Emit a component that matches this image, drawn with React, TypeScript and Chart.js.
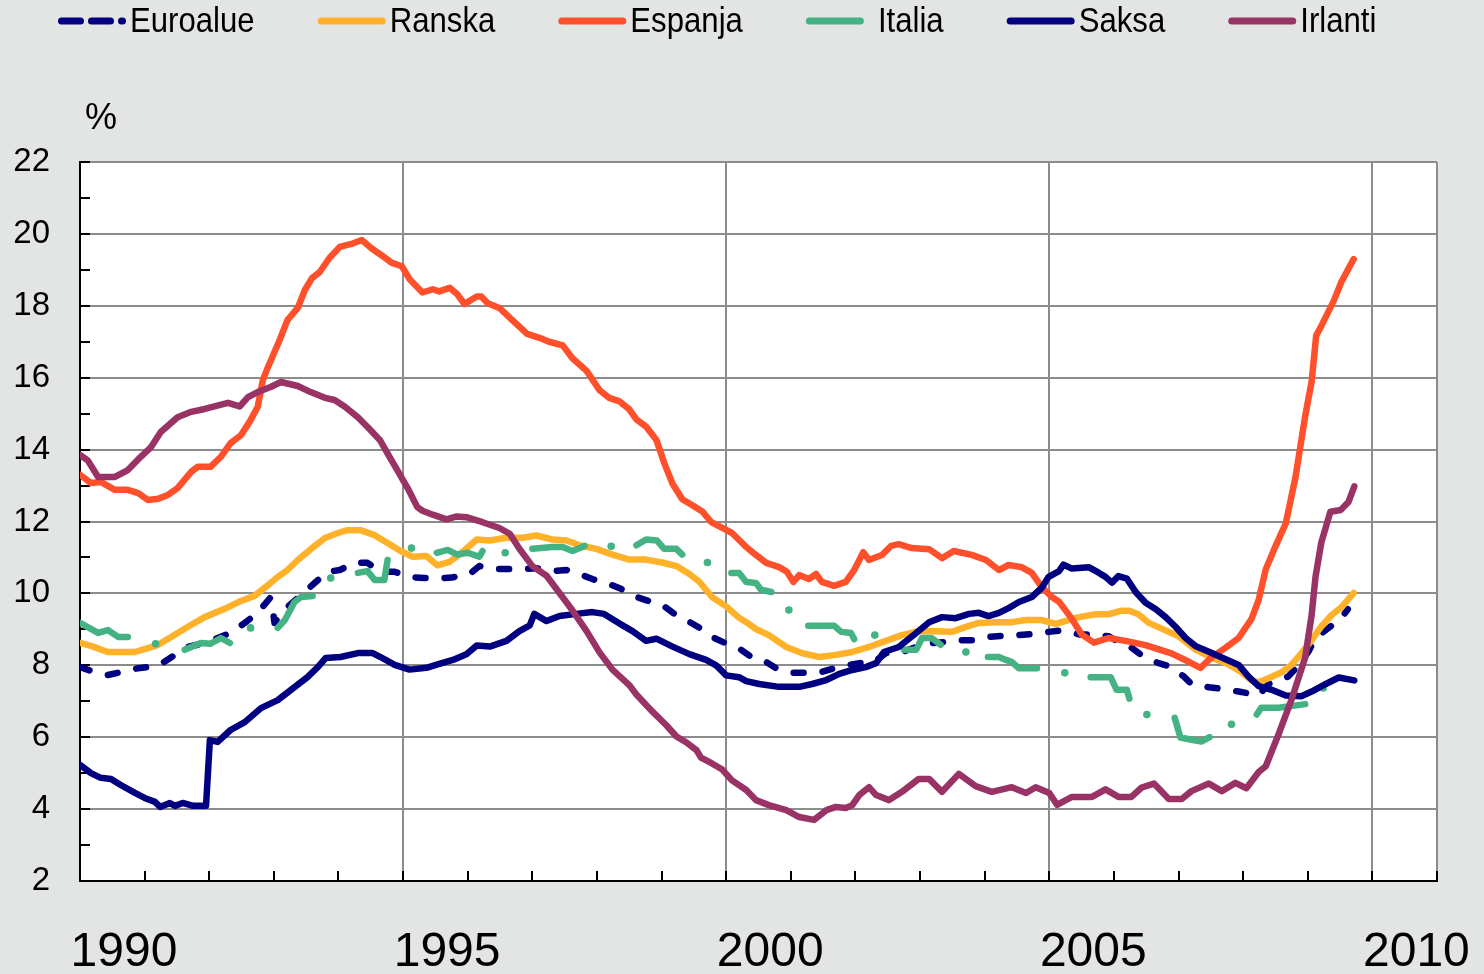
import React, { useEffect, useRef } from 'react';
import { Chart, registerables } from 'chart.js';

Chart.register(...registerables);

// ---------- DATA (decimal years, unemployment %) ----------
const euroalueT = [1990.00, 1990.23, 1990.43, 1990.63, 1990.90, 1991.05, 1991.25, 1991.47, 1991.67, 1991.93, 1992.13, 1992.33, 1992.55, 1992.75, 1992.94, 1992.98, 1993.01, 1993.11, 1993.26, 1993.42, 1993.63, 1993.83, 1994.02, 1994.25, 1994.45, 1994.65, 1994.87, 1995.12, 1995.33, 1995.60, 1995.75, 1996.03, 1996.18, 1996.45, 1996.91, 1997.06, 1997.31, 1997.53, 1997.77, 1997.93, 1998.19, 1998.38, 1998.61, 1998.78, 1999.04, 1999.20, 1999.43, 1999.58, 1999.78, 1999.97, 2000.20, 2000.39, 2000.62, 2000.77, 2001.00, 2001.24, 2001.47, 2001.67, 2001.90, 2002.06, 2002.29, 2002.47, 2002.72, 2002.94, 2003.18, 2003.40, 2003.63, 2003.83, 2004.06, 2004.30, 2004.53, 2004.73, 2004.99, 2005.18, 2005.46, 2005.61, 2005.92, 2006.07, 2006.27, 2006.43, 2006.69, 2006.88, 2007.08, 2007.20, 2007.47, 2007.65, 2007.93, 2008.11, 2008.24, 2008.39, 2008.70, 2008.86, 2009.01, 2009.12, 2009.27, 2009.51, 2009.62];
const euroalueV = [7.95, 7.81, 7.73, 7.81, 7.92, 7.95, 8.03, 8.29, 8.51, 8.62, 8.76, 8.90, 9.18, 9.46, 9.87, 9.60, 9.18, 9.46, 9.70, 9.95, 10.29, 10.60, 10.65, 10.85, 10.85, 10.60, 10.60, 10.45, 10.43, 10.42, 10.44, 10.54, 10.76, 10.68, 10.68, 10.70, 10.62, 10.65, 10.51, 10.40, 10.26, 10.12, 9.90, 9.80, 9.64, 9.43, 9.21, 9.05, 8.79, 8.63, 8.47, 8.23, 8.09, 7.92, 7.79, 7.79, 7.81, 7.92, 8.01, 8.06, 8.09, 8.34, 8.37, 8.51, 8.62, 8.65, 8.70, 8.70, 8.79, 8.82, 8.84, 8.87, 8.93, 8.97, 8.86, 8.86, 8.81, 8.65, 8.49, 8.28, 8.06, 7.96, 7.69, 7.48, 7.39, 7.35, 7.27, 7.21, 7.16, 7.48, 7.69, 8.01, 8.38, 8.76, 8.97, 9.29, 9.56];

const ranskaT = [1990.00, 1990.17, 1990.43, 1990.85, 1991.05, 1991.21, 1991.41, 1991.67, 1991.93, 1992.24, 1992.49, 1992.70, 1992.91, 1993.06, 1993.21, 1993.37, 1993.57, 1993.79, 1993.99, 1994.14, 1994.34, 1994.56, 1994.76, 1994.96, 1995.15, 1995.36, 1995.53, 1995.72, 1995.92, 1996.14, 1996.34, 1996.60, 1996.85, 1997.06, 1997.31, 1997.53, 1997.73, 1997.99, 1998.24, 1998.50, 1998.76, 1999.01, 1999.23, 1999.43, 1999.58, 1999.78, 2000.00, 2000.20, 2000.31, 2000.46, 2000.66, 2000.93, 2001.17, 2001.44, 2001.70, 2001.95, 2002.21, 2002.47, 2002.72, 2002.98, 2003.25, 2003.49, 2003.71, 2003.91, 2004.17, 2004.42, 2004.64, 2004.88, 2005.10, 2005.46, 2005.72, 2005.92, 2006.12, 2006.23, 2006.38, 2006.54, 2006.74, 2007.00, 2007.26, 2007.51, 2007.77, 2007.98, 2008.13, 2008.24, 2008.39, 2008.59, 2008.75, 2008.90, 2009.06, 2009.21, 2009.37, 2009.52, 2009.71];
const ranskaV = [8.62, 8.54, 8.37, 8.37, 8.48, 8.57, 8.79, 9.07, 9.34, 9.57, 9.79, 9.93, 10.23, 10.46, 10.65, 10.93, 11.23, 11.54, 11.68, 11.76, 11.76, 11.62, 11.40, 11.18, 11.02, 11.04, 10.78, 10.88, 11.15, 11.50, 11.47, 11.55, 11.55, 11.61, 11.50, 11.47, 11.34, 11.24, 11.08, 10.94, 10.94, 10.86, 10.76, 10.54, 10.33, 9.90, 9.64, 9.32, 9.20, 9.01, 8.84, 8.51, 8.34, 8.23, 8.29, 8.37, 8.51, 8.68, 8.84, 8.95, 8.95, 8.93, 9.07, 9.18, 9.20, 9.20, 9.26, 9.26, 9.15, 9.34, 9.42, 9.42, 9.52, 9.52, 9.42, 9.18, 9.02, 8.81, 8.44, 8.22, 8.03, 7.80, 7.58, 7.53, 7.64, 7.80, 8.01, 8.33, 8.70, 9.08, 9.40, 9.61, 10.01];

const espanjaT = [1990.00, 1990.17, 1990.32, 1990.54, 1990.74, 1990.90, 1991.05, 1991.21, 1991.36, 1991.51, 1991.72, 1991.82, 1992.02, 1992.18, 1992.33, 1992.49, 1992.64, 1992.75, 1992.83, 1992.91, 1993.09, 1993.21, 1993.37, 1993.48, 1993.59, 1993.71, 1993.86, 1994.02, 1994.20, 1994.36, 1994.51, 1994.67, 1994.82, 1994.98, 1995.10, 1995.30, 1995.46, 1995.56, 1995.72, 1995.84, 1995.95, 1996.14, 1996.21, 1996.31, 1996.49, 1996.69, 1996.92, 1997.11, 1997.26, 1997.47, 1997.62, 1997.84, 1998.04, 1998.19, 1998.35, 1998.50, 1998.61, 1998.76, 1998.92, 1999.04, 1999.17, 1999.32, 1999.47, 1999.63, 1999.77, 1999.94, 2000.09, 2000.31, 2000.46, 2000.62, 2000.82, 2000.94, 2001.04, 2001.13, 2001.28, 2001.39, 2001.48, 2001.67, 2001.85, 2001.98, 2002.06, 2002.12, 2002.21, 2002.41, 2002.55, 2002.67, 2002.87, 2003.14, 2003.34, 2003.52, 2003.80, 2004.02, 2004.22, 2004.37, 2004.57, 2004.73, 2004.88, 2005.04, 2005.15, 2005.35, 2005.50, 2005.69, 2005.92, 2006.18, 2006.49, 2006.89, 2007.11, 2007.34, 2007.51, 2007.73, 2007.93, 2008.13, 2008.24, 2008.35, 2008.50, 2008.66, 2008.81, 2008.96, 2009.06, 2009.13, 2009.21, 2009.40, 2009.52, 2009.71];
const espanjaV = [13.30, 13.07, 13.10, 12.88, 12.88, 12.79, 12.60, 12.63, 12.74, 12.93, 13.38, 13.52, 13.52, 13.80, 14.18, 14.40, 14.82, 15.19, 15.94, 16.30, 17.05, 17.60, 17.94, 18.44, 18.77, 18.94, 19.33, 19.64, 19.72, 19.83, 19.60, 19.40, 19.20, 19.10, 18.74, 18.37, 18.46, 18.40, 18.50, 18.32, 18.05, 18.26, 18.26, 18.07, 17.94, 17.60, 17.22, 17.11, 17.00, 16.90, 16.54, 16.19, 15.65, 15.44, 15.34, 15.12, 14.84, 14.64, 14.27, 13.63, 13.05, 12.62, 12.46, 12.28, 11.98, 11.82, 11.68, 11.29, 11.07, 10.85, 10.73, 10.60, 10.32, 10.51, 10.40, 10.54, 10.32, 10.21, 10.32, 10.65, 10.93, 11.15, 10.93, 11.07, 11.32, 11.37, 11.26, 11.23, 10.98, 11.18, 11.07, 10.93, 10.65, 10.79, 10.73, 10.57, 10.18, 9.90, 9.77, 9.29, 8.86, 8.63, 8.76, 8.68, 8.56, 8.33, 8.14, 7.93, 8.22, 8.49, 8.76, 9.29, 9.82, 10.67, 11.31, 11.95, 13.23, 14.93, 15.89, 17.17, 17.44, 18.13, 18.66, 19.30];

// Italia: null marks a break in the published series
const italiaT = [1990.00, 1990.28, 1990.43, 1990.59, 1990.74, 1990.74, 1991.17, 1991.17, 1991.62, 1991.87, 1992.02, 1992.18, 1992.32, 1992.32, 1992.64, 1992.64, 1993.06, 1993.17, 1993.32, 1993.42, 1993.60, 1993.60, 1993.88, 1993.88, 1994.30, 1994.45, 1994.56, 1994.71, 1994.76, 1994.76, 1995.13, 1995.13, 1995.52, 1995.69, 1995.84, 1996.00, 1996.18, 1996.23, 1996.23, 1996.58, 1996.58, 1997.00, 1997.31, 1997.47, 1997.62, 1997.81, 1997.81, 1998.22, 1998.22, 1998.61, 1998.76, 1998.93, 1999.04, 1999.23, 1999.32, 1999.32, 1999.71, 1999.71, 2000.08, 2000.20, 2000.31, 2000.46, 2000.54, 2000.70, 2000.70, 2000.97, 2000.97, 2001.27, 2001.67, 2001.78, 2001.93, 2001.98, 2001.98, 2002.30, 2002.30, 2002.75, 2002.94, 2003.03, 2003.18, 2003.32, 2003.32, 2003.71, 2003.71, 2004.05, 2004.22, 2004.33, 2004.42, 2004.53, 2004.81, 2004.81, 2005.24, 2005.24, 2005.64, 2005.95, 2006.04, 2006.20, 2006.24, 2006.24, 2006.51, 2006.51, 2006.94, 2007.03, 2007.20, 2007.36, 2007.48, 2007.48, 2007.82, 2007.82, 2008.21, 2008.28, 2008.55, 2008.96, 2008.96, 2009.24];
const italiaV = [9.18, 8.90, 8.98, 8.79, 8.79, null, 8.60, null, 8.43, 8.62, 8.60, 8.76, 8.62, null, 9.04, null, 9.04, 9.26, 9.76, 9.90, 9.93, null, 10.43, null, 10.57, 10.62, 10.37, 10.37, 10.93, null, 11.26, null, 11.13, 11.21, 11.08, 11.13, 11.02, 11.18, null, 11.13, null, 11.24, 11.29, 11.29, 11.18, 11.32, null, 11.31, null, 11.34, 11.50, 11.47, 11.24, 11.24, 11.08, null, 10.86, null, 10.57, 10.57, 10.32, 10.29, 10.10, 10.04, null, 9.54, null, 9.10, 9.10, 8.93, 8.90, 8.73, null, 8.84, null, 8.43, 8.43, 8.76, 8.76, 8.57, null, 8.37, null, 8.23, 8.23, 8.15, 8.09, 7.92, 7.92, null, 7.79, null, 7.67, 7.67, 7.32, 7.32, 7.07, null, 6.63, null, 6.54, 5.99, 5.93, 5.88, 6.00, null, 6.36, null, 6.63, 6.82, 6.82, 6.92, null, 7.37];

const saksaT = [1990.00, 1990.17, 1990.32, 1990.48, 1990.63, 1990.85, 1991.00, 1991.16, 1991.24, 1991.39, 1991.47, 1991.59, 1991.75, 1991.95, 1992.01, 1992.13, 1992.33, 1992.55, 1992.80, 1993.06, 1993.26, 1993.52, 1993.68, 1993.80, 1994.03, 1994.30, 1994.53, 1994.65, 1994.87, 1995.10, 1995.36, 1995.56, 1995.77, 1995.98, 1996.14, 1996.34, 1996.60, 1996.80, 1996.96, 1997.03, 1997.22, 1997.42, 1997.68, 1997.93, 1998.11, 1998.35, 1998.55, 1998.76, 1998.92, 1999.17, 1999.43, 1999.69, 1999.85, 2000.00, 2000.20, 2000.31, 2000.51, 2000.82, 2001.13, 2001.33, 2001.55, 2001.75, 2001.95, 2002.16, 2002.32, 2002.44, 2002.67, 2002.94, 2003.14, 2003.34, 2003.55, 2003.76, 2003.91, 2004.06, 2004.22, 2004.37, 2004.53, 2004.73, 2004.88, 2004.99, 2005.15, 2005.22, 2005.35, 2005.61, 2005.77, 2005.87, 2005.97, 2006.07, 2006.20, 2006.34, 2006.49, 2006.65, 2006.80, 2006.95, 2007.11, 2007.26, 2007.47, 2007.73, 2007.93, 2008.08, 2008.24, 2008.44, 2008.66, 2008.90, 2009.06, 2009.28, 2009.48, 2009.72];
const saksaV = [5.23, 5.00, 4.87, 4.84, 4.67, 4.45, 4.31, 4.20, 4.06, 4.17, 4.09, 4.17, 4.09, 4.09, 5.92, 5.87, 6.20, 6.42, 6.81, 7.03, 7.31, 7.67, 7.95, 8.20, 8.23, 8.34, 8.34, 8.23, 8.01, 7.88, 7.93, 8.04, 8.15, 8.31, 8.55, 8.52, 8.68, 8.95, 9.11, 9.43, 9.23, 9.37, 9.43, 9.48, 9.43, 9.16, 8.95, 8.68, 8.74, 8.52, 8.31, 8.15, 7.99, 7.72, 7.67, 7.56, 7.48, 7.40, 7.40, 7.48, 7.59, 7.76, 7.87, 7.95, 8.06, 8.37, 8.51, 8.90, 9.20, 9.34, 9.31, 9.43, 9.46, 9.37, 9.46, 9.59, 9.76, 9.90, 10.15, 10.46, 10.62, 10.80, 10.69, 10.73, 10.57, 10.46, 10.30, 10.48, 10.41, 10.03, 9.74, 9.56, 9.34, 9.08, 8.76, 8.54, 8.38, 8.17, 8.01, 7.69, 7.42, 7.32, 7.16, 7.14, 7.27, 7.48, 7.66, 7.58];

const irlantiT = [1990.00, 1990.12, 1990.28, 1990.54, 1990.74, 1990.94, 1991.10, 1991.25, 1991.51, 1991.72, 1991.93, 1992.29, 1992.47, 1992.60, 1992.75, 1992.95, 1993.11, 1993.37, 1993.57, 1993.79, 1993.94, 1994.10, 1994.30, 1994.45, 1994.64, 1994.79, 1994.91, 1995.07, 1995.22, 1995.30, 1995.46, 1995.67, 1995.83, 1995.98, 1996.23, 1996.49, 1996.65, 1996.80, 1997.00, 1997.22, 1997.42, 1997.62, 1997.84, 1998.04, 1998.24, 1998.50, 1998.61, 1998.86, 1999.07, 1999.23, 1999.38, 1999.54, 1999.61, 1999.78, 1999.94, 2000.09, 2000.31, 2000.46, 2000.66, 2000.93, 2001.13, 2001.36, 2001.55, 2001.70, 2001.85, 2001.95, 2002.06, 2002.21, 2002.32, 2002.52, 2002.72, 2002.98, 2003.14, 2003.34, 2003.60, 2003.86, 2004.11, 2004.42, 2004.64, 2004.79, 2005.00, 2005.12, 2005.35, 2005.66, 2005.87, 2006.07, 2006.27, 2006.43, 2006.62, 2006.85, 2007.05, 2007.20, 2007.47, 2007.67, 2007.88, 2008.05, 2008.24, 2008.35, 2008.55, 2008.75, 2008.96, 2009.06, 2009.12, 2009.21, 2009.35, 2009.51, 2009.63, 2009.72];
const irlantiV = [13.85, 13.70, 13.24, 13.24, 13.43, 13.80, 14.07, 14.49, 14.90, 15.05, 15.13, 15.30, 15.20, 15.46, 15.60, 15.74, 15.88, 15.77, 15.60, 15.44, 15.38, 15.19, 14.90, 14.63, 14.27, 13.80, 13.43, 12.93, 12.40, 12.30, 12.19, 12.06, 12.14, 12.12, 11.98, 11.82, 11.66, 11.24, 10.76, 10.49, 10.01, 9.53, 8.95, 8.36, 7.88, 7.45, 7.19, 6.71, 6.34, 6.02, 5.86, 5.64, 5.43, 5.27, 5.10, 4.80, 4.53, 4.25, 4.11, 3.97, 3.78, 3.70, 3.97, 4.06, 4.03, 4.11, 4.39, 4.61, 4.39, 4.25, 4.48, 4.84, 4.84, 4.48, 4.98, 4.64, 4.48, 4.61, 4.45, 4.61, 4.45, 4.12, 4.34, 4.34, 4.55, 4.34, 4.34, 4.60, 4.71, 4.28, 4.28, 4.50, 4.71, 4.50, 4.73, 4.58, 5.03, 5.19, 6.09, 7.05, 8.22, 9.40, 10.46, 11.42, 12.27, 12.32, 12.54, 12.98];

const seriesLabels = ['Euroalue', 'Ranska', 'Espanja', 'Italia', 'Saksa', 'Irlanti'];
const xTickYears = [1990, 1995, 2000, 2005, 2010, 2011];
const xMinorYears = [1990, 1991, 1992, 1993, 1994, 1995, 1996, 1997, 1998, 1999, 2000, 2001, 2002, 2003, 2004, 2005, 2006, 2007, 2008, 2009, 2010, 2011];
const yMinorValues = [2, 3, 4, 5, 6, 7, 8, 9, 10, 11, 12, 13, 14, 15, 16, 17, 18, 19, 20, 21, 22];
const unitLabel = '%';

// ---------- helpers ----------
const toPoints = (t: number[], v: (number | null)[]) => t.map((x, i) => ({ x, y: v[i] }));

const isolatedRadius = (ctx: any) => {
  const d = ctx.dataset.data as { x: number; y: number | null }[];
  const i = ctx.dataIndex;
  const cur = d[i];
  if (!cur || cur.y == null) return 0;
  const prevGap = i === 0 || d[i - 1].y == null;
  const nextGap = i === d.length - 1 || d[i + 1].y == null;
  return prevGap && nextGap ? 3.8 : 0;
};

const BG = '#E3E5E4';
const GRID = '#8C8C8C';
const FONT = '"Liberation Sans", Arial, Helvetica, sans-serif';

const backgroundPlugin = {
  id: 'bgPlugin',
  beforeDraw(chart: any) {
    const { ctx, chartArea } = chart;
    ctx.save();
    ctx.fillStyle = BG;
    ctx.fillRect(0, 0, chart.width, chart.height);
    ctx.fillStyle = '#FFFFFF';
    ctx.fillRect(chartArea.left, chartArea.top, chartArea.right - chartArea.left, chartArea.bottom - chartArea.top);
    ctx.restore();
  },
  beforeDatasetsDraw(chart: any) {
    const { ctx, chartArea, scales } = chart;
    ctx.save();
    ctx.strokeStyle = '#000000';
    ctx.lineWidth = 2;
    ctx.beginPath();
    xMinorYears.forEach((yr) => {
      const px = Math.round(scales.x.getPixelForValue(yr));
      ctx.moveTo(px, chartArea.bottom);
      ctx.lineTo(px, chartArea.bottom - 10);
    });
    yMinorValues.forEach((val) => {
      const py = Math.round(scales.y.getPixelForValue(val));
      ctx.moveTo(chartArea.left, py);
      ctx.lineTo(chartArea.left + 10, py);
    });
    ctx.stroke();
    ctx.restore();
  },
  afterDraw(chart: any) {
    const { ctx, chartArea } = chart;
    ctx.save();
    // unit label
    ctx.fillStyle = '#000000';
    ctx.font = `36px ${FONT}`;
    ctx.textAlign = 'center';
    ctx.textBaseline = 'middle';
    ctx.fillText(unitLabel, chartArea.left + 21, 119);

    // legend
    let x = 58;
    const y = 21;
    chart.data.datasets.forEach((ds: any) => {
      const sample = ds.legendSample || 68;
      ctx.strokeStyle = ds.borderColor;
      ctx.lineWidth = 7;
      ctx.lineCap = 'round';
      ctx.setLineDash(ds.legendDash || []);
      ctx.beginPath();
      ctx.moveTo(x + 3.5, y);
      ctx.lineTo(x + sample - 3.5, y);
      ctx.stroke();
      ctx.setLineDash([]);
      ctx.font = `35px ${FONT}`;
      const sx = 0.89;
      const w = ctx.measureText(ds.label).width * sx;
      ctx.save();
      ctx.translate(x + 72, y + 1);
      ctx.scale(sx, 1);
      ctx.fillStyle = '#000000';
      ctx.textAlign = 'left';
      ctx.textBaseline = 'middle';
      ctx.fillText(ds.label, 0, 0);
      ctx.restore();
      x += 72 + w + 63;
    });
    ctx.restore();
  },
};

export default function App() {
  const canvasRef = useRef<HTMLCanvasElement | null>(null);

  useEffect(() => {
    const canvas = canvasRef.current;
    if (!canvas) return;
    Chart.defaults.font.family = FONT;
    const base = {
      fill: false,
      borderWidth: 6.5,
      borderCapStyle: 'round',
      borderJoinStyle: 'round',
      pointRadius: 0,
      pointHoverRadius: 0,
      tension: 0,
      spanGaps: false,
    };
    const chart = new Chart(canvas, {
      type: 'line',
      data: {
        datasets: [
          { ...base, label: seriesLabels[0], data: toPoints(euroalueT, euroalueV), borderColor: '#000080', borderDash: [10, 19], legendDash: [19, 11], order: 5 },
          { ...base, label: seriesLabels[1], data: toPoints(ranskaT, ranskaV), borderColor: '#FFB12A', order: 4 },
          { ...base, label: seriesLabels[2], data: toPoints(espanjaT, espanjaV), borderColor: '#FF4F2B', order: 3 },
          { ...base, label: seriesLabels[3], data: toPoints(italiaT, italiaV), borderColor: '#44B283', pointRadius: isolatedRadius, pointBackgroundColor: '#44B283', pointBorderWidth: 0, legendSample: 58, order: 2 },
          { ...base, label: seriesLabels[4], data: toPoints(saksaT, saksaV), borderColor: '#000080', order: 1 },
          { ...base, label: seriesLabels[5], data: toPoints(irlantiT, irlantiV), borderColor: '#993366', order: 0 },
        ] as any,
      },
      options: {
        animation: false,
        responsive: false,
        events: [],
        layout: { padding: { top: 162, right: 47, left: 0, bottom: 0 } },
        plugins: { legend: { display: false }, tooltip: { enabled: false }, title: { display: false } },
        scales: {
          x: {
            type: 'linear',
            min: 1990,
            max: 2011,
            afterBuildTicks: (scale: any) => {
              scale.ticks = xTickYears.map((v) => ({ value: v }));
            },
            afterFit: (scale: any) => {
              scale.height = 93;
              scale.paddingLeft = 0;
              scale.paddingRight = 0;
            },
            grid: {
              color: (c: any) => (c.tick && c.tick.value === 1990 ? 'rgba(0,0,0,0)' : GRID),
              lineWidth: 2,
              drawTicks: false,
            },
            border: { display: true, color: '#000000', width: 2 },
            ticks: {
              autoSkip: false,
              maxRotation: 0,
              minRotation: 0,
              padding: 43,
              labelOffset: 44,
              color: '#000000',
              font: { size: 48, family: FONT },
              callback: (v: any) => (Number(v) % 5 === 0 ? String(v) : ''),
            },
          },
          y: {
            type: 'linear',
            min: 2,
            max: 22,
            afterFit: (scale: any) => {
              scale.width = 80;
            },
            grid: {
              color: (c: any) => (c.tick && c.tick.value === 2 ? 'rgba(0,0,0,0)' : GRID),
              lineWidth: 2,
              drawTicks: false,
            },
            border: { display: true, color: '#000000', width: 2 },
            ticks: {
              stepSize: 2,
              padding: 30,
              color: '#000000',
              font: { size: 33, family: FONT },
              callback: (v: any) => String(v),
            },
          },
        },
      } as any,
      plugins: [backgroundPlugin],
    });
    return () => chart.destroy();
  }, []);

  return (
    <div style={{ position: 'fixed', left: 0, top: 0, width: 1484, height: 974, background: BG }}>
      <canvas ref={canvasRef} width={1484} height={974} style={{ display: 'block', width: 1484, height: 974 }} />
    </div>
  );
}
